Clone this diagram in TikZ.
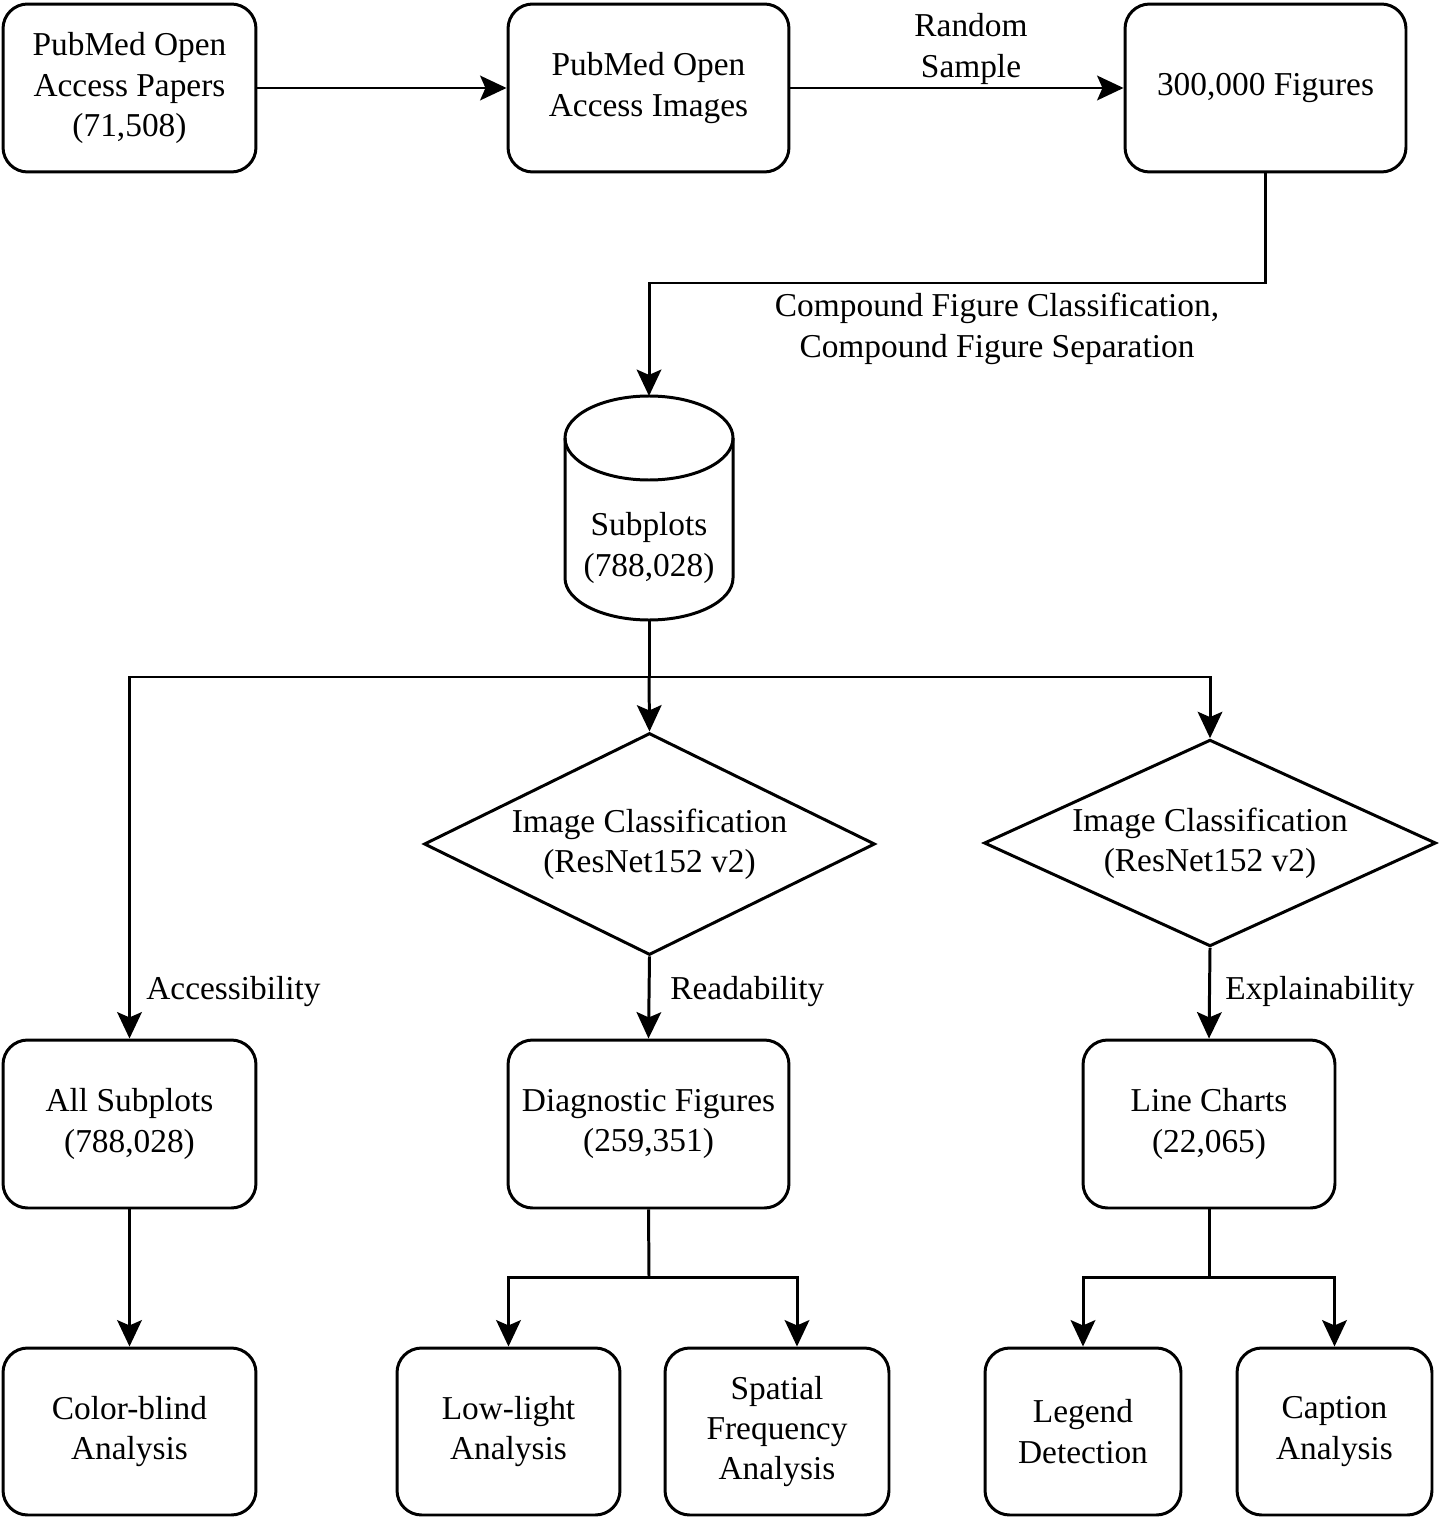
\documentclass[tikz,border=0pt]{standalone}
\usepackage{fontspec}
\setmainfont{Liberation Serif}
\usetikzlibrary{shapes.geometric,arrows.meta}
\begin{document}
\begin{tikzpicture}[x=0.02cm,y=-0.02cm,
  every node/.style={font=\fontsize{19pt}{23pt}\selectfont},
  ln/.style={line width=1.7pt},
  arr/.style={ln,-{Stealth[length=15pt,width=14pt,inset=3pt]}},
  rbox/.style={draw,line width=1.7pt,rounded corners=14pt,align=center,inner sep=0pt,minimum height=3.36cm},
  dia/.style={draw,line width=1.7pt,diamond,align=center,inner sep=0pt,aspect=2.03},
  lbl/.style={align=center,inner sep=0pt}]
\useasboundingbox (0,0) rectangle (1441,1523);
\fill[white] (0,0) rectangle (1441,1523);
% top row
\node[rbox,minimum width=5.06cm] (papers) at (129.5,88) {PubMed Open\\Access Papers\\(71,508)};
\node[rbox,minimum width=5.62cm] (images) at (648.5,88) {PubMed Open\\Access Images};
\node[rbox,minimum width=5.62cm] (figs) at (1265.5,88) {300,000 Figures};
\draw[arr] (papers) -- (images);
\draw[arr] (images) -- (figs);
\node[lbl] (rs) at (971,49) {Random\\Sample};
% cylinder
\coordinate (subtop) at (649,396);
\coordinate (subbot) at (649,620);
\draw[ln,fill=white] (565,438) -- (565,578) arc[start angle=180,end angle=360,x radius=84,y radius=-42] -- (733,438);
\draw[ln] (649,438) ellipse [x radius=84,y radius=42];
\node[lbl] (sub) at (649,548) {Subplots\\(788,028)};
\coordinate (bend1) at (1265.5,283);
\draw[arr] (figs.south) -- (bend1) -| (subtop);
\node[lbl] (cfc) at (997,329) {Compound Figure Classification,\\Compound Figure Separation};
% split
\coordinate (split) at (649,677);
\draw[ln] (subbot) -- (split);
% diamonds
\node[dia,minimum width=9.02cm,minimum height=4.44cm] (d1) at (649.5,844) {Image Classification\\(ResNet152 v2)};
\node[dia,minimum width=9.04cm,minimum height=4.12cm] (d2) at (1210,843) {Image Classification\\(ResNet152 v2)};
% second row
\node[rbox,minimum width=5.06cm] (all) at (129.5,1124) {All Subplots\\(788,028)};
\node[rbox,minimum width=5.62cm] (diag) at (648.5,1124) {Diagnostic Figures\\(259,351)};
\node[rbox,minimum width=5.04cm] (line) at (1209,1124) {Line Charts\\(22,065)};
\draw[arr] (split) -| (all.north);
\draw[arr] (split) -- (d1.north);
\draw[arr] (split) -| (d2.north);
\draw[arr] (d1.south) -- (diag.north);
\draw[arr] (d2.south) -- (line.north);
\node[lbl,anchor=west] (acc) at (146,992) {Accessibility};
\node[lbl,anchor=west] (rea) at (670,992) {Readability};
\node[lbl,anchor=west] (exp) at (1225,992) {Explainability};
% third row
\node[rbox,minimum width=5.06cm,minimum height=3.34cm] (cb) at (129.5,1431.5) {Color-blind\\Analysis};
\node[rbox,minimum width=4.46cm,minimum height=3.34cm] (low) at (508.5,1431.5) {Low-light\\Analysis};
\node[rbox,minimum width=4.48cm,minimum height=3.34cm] (spat) at (777,1431.5) {Spatial\\Frequency\\Analysis};
\node[rbox,minimum width=3.92cm,minimum height=3.34cm] (leg) at (1083,1431.5) {Legend\\Detection};
\node[rbox,minimum width=3.9cm,minimum height=3.34cm] (cap) at (1334.5,1431.5) {Caption\\Analysis};
\draw[arr] (all.south) -- (cb.north);
\coordinate (split2) at (649,1277);
\coordinate (split3) at (1209,1277);
\draw[ln] (diag.south) -- (split2);
\draw[arr] (split2) -| (low.north);
\draw[arr] (split2) -| ([xshift=0.4cm]spat.north);
\draw[ln] (line.south) -- (split3);
\draw[arr] (split3) -| (leg.north);
\draw[arr] (split3) -| (cap.north);
\end{tikzpicture}
\end{document}
